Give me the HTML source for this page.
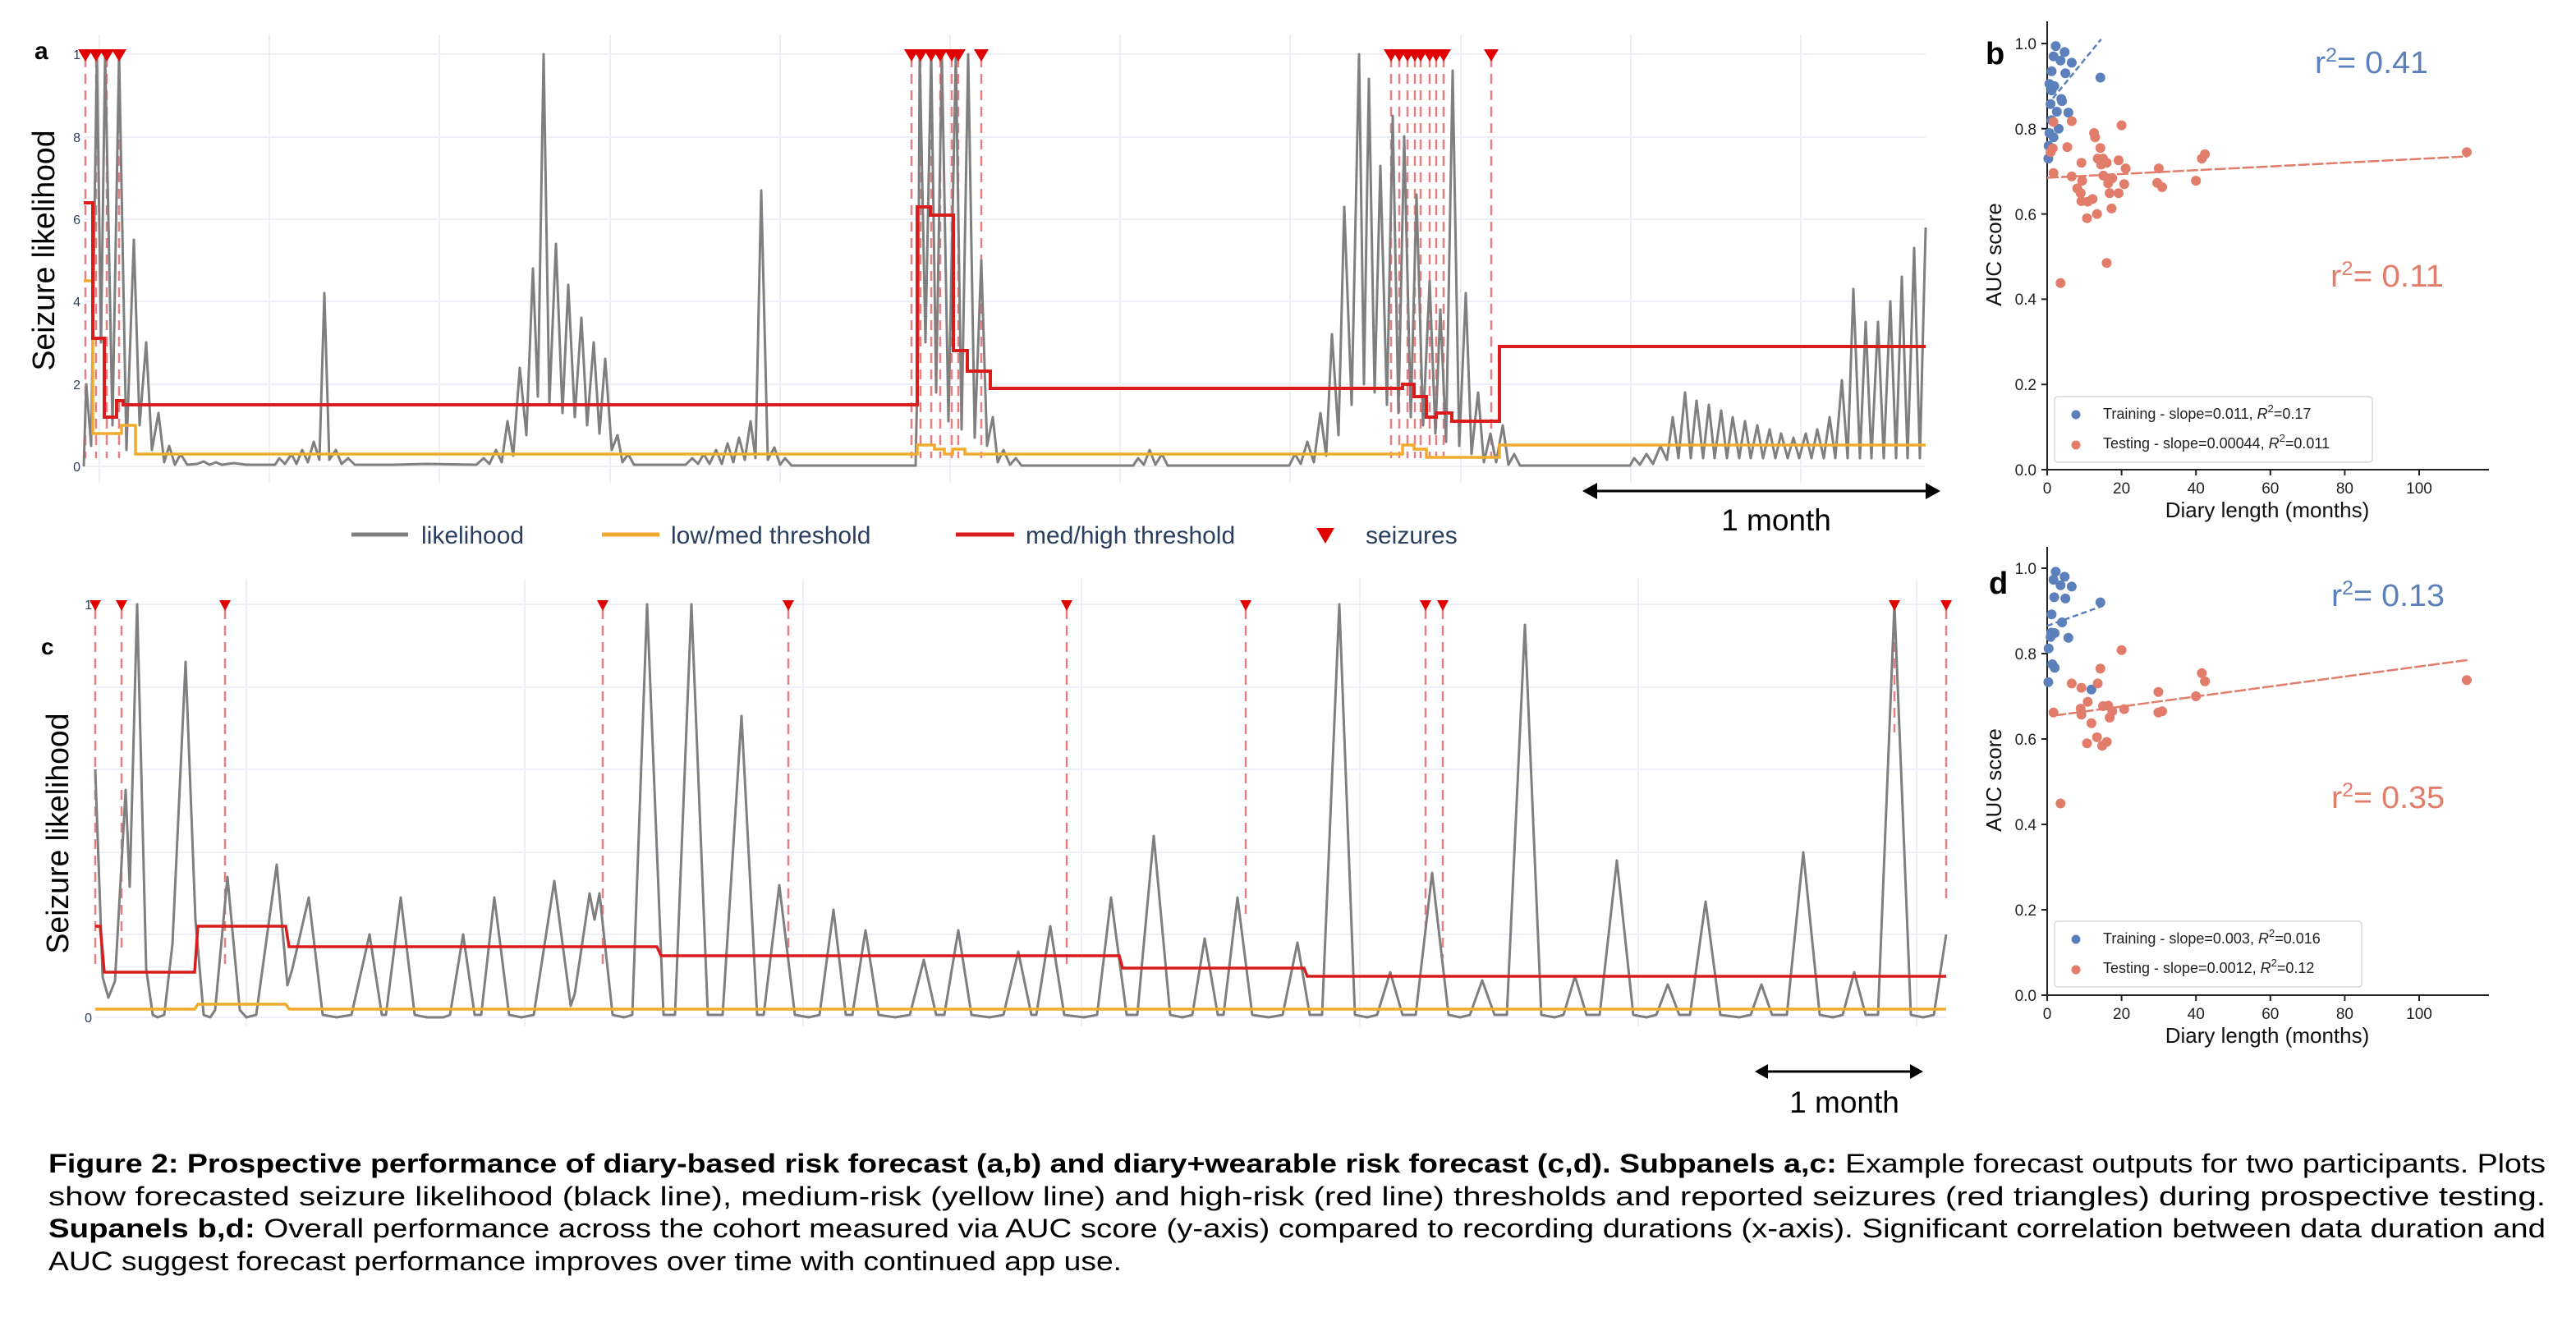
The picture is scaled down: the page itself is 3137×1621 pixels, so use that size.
<!DOCTYPE html>
<html><head><meta charset="utf-8">
<style>
html,body{margin:0;padding:0;background:#fff;}
svg{display:block;font-family:"Liberation Sans",sans-serif;}
</style></head>
<body>
<svg xmlns="http://www.w3.org/2000/svg" width="3137" height="1621" viewBox="0 0 3137 1621">
<rect width="3137" height="1621" fill="#fff"/>

<!-- ===== Panel A ===== -->
<g stroke="#eceff5" stroke-width="2">
<path d="M121,42V588M328,42V588M535,42V588M743,42V588M950,42V588M1157,42V588M1364,42V588M1571,42V588M1779,42V588M1986,42V588M2193,42V588"/>
<path d="M102,66H2345M102,167H2345M102,267H2345M102,367H2345M102,468H2345M102,568H2345"/>
</g>
<g font-size="16" fill="#2a3f5f" text-anchor="end">
<text x="98" y="72">1</text><text x="98" y="173">8</text><text x="98" y="273">6</text><text x="98" y="373">4</text><text x="98" y="474">2</text><text x="98" y="574">0</text>
</g>
<path d="M104,70V558M117,70V558M130,70V558M145,70V558M1110,70V558M1121,70V558M1134,70V558M1145,70V558M1159,70V558M1167,70V558M1195,70V558M1694,70V558M1704,70V558M1714,70V558M1723,70V558M1730,70V558M1741,70V558M1749,70V558M1758,70V558M1816,70V558" stroke="#e06060" stroke-width="2.5" stroke-dasharray="12,8" opacity="0.8" fill="none"/>
<path fill="none" stroke="#7f7f7f" stroke-width="3" stroke-linejoin="round" d="M102,568 L105,468 L111,543 L118,66 L123,417 L128,66 L137,518 L145,66 L154,548 L163,292 L170,518 L178,417 L185,548 L193,503 L200,563 L206,543 L213,566 L220,553 L228,566 L240,565 L248,562 L255,566 L263,563 L270,566 L285,564 L300,566 L335,566 L340,558 L347,565 L355,553 L361,565 L368,548 L375,563 L382,538 L389,560 L395,357 L401,560 L409,548 L416,565 L424,558 L432,566 L480,566 L520,565 L580,566 L589,558 L596,565 L604,548 L611,563 L618,513 L625,555 L633,448 L641,530 L649,327 L655,483 L662,66 L669,493 L677,297 L685,503 L692,347 L700,508 L708,387 L715,518 L723,417 L730,528 L737,437 L745,548 L752,530 L758,563 L765,553 L772,566 L835,566 L843,558 L850,565 L857,553 L864,565 L872,548 L879,565 L886,540 L893,563 L900,533 L907,560 L914,513 L920,558 L927,232 L935,560 L943,545 L950,566 L956,558 L964,567 L1115,567 L1118,417 L1120,66 L1127,417 L1134,66 L1140,478 L1147,66 L1155,513 L1164,66 L1171,523 L1179,66 L1187,533 L1195,317 L1202,543 L1209,508 L1215,563 L1222,548 L1230,566 L1237,558 L1244,567 L1380,567 L1386,558 L1393,566 L1400,548 L1407,566 L1415,553 L1422,567 L1570,567 L1577,553 L1584,565 L1592,538 L1600,563 L1608,503 L1615,555 L1622,407 L1630,530 L1637,252 L1646,493 L1655,66 L1661,468 L1667,96 L1674,478 L1681,202 L1689,493 L1696,141 L1703,503 L1710,166 L1718,508 L1725,237 L1733,518 L1741,342 L1748,528 L1754,377 L1761,538 L1769,86 L1777,543 L1785,357 L1792,553 L1800,478 L1807,563 L1815,528 L1822,563 L1830,518 L1837,566 L1844,553 L1851,567 L1985,567 L1990,558 L1997,566 L2005,553 L2013,565 L2022,543 L2030,560 L2037,508 L2044,558 L2052,478 L2059,558 L2066,488 L2074,558 L2081,493 L2088,558 L2096,500 L2103,558 L2110,508 L2118,558 L2125,513 L2132,558 L2140,518 L2147,558 L2155,523 L2162,558 L2169,528 L2177,558 L2184,533 L2191,558 L2199,528 L2206,558 L2213,523 L2221,558 L2228,508 L2235,558 L2243,463 L2250,558 L2257,352 L2265,558 L2272,392 L2279,558 L2287,392 L2294,558 L2302,367 L2309,558 L2316,337 L2323,558 L2331,302 L2338,558 L2345,277"/>
<path fill="none" stroke="#f0ab2e" stroke-width="3.5" d="M102,342 H113 V528 H148 V518 H165 V553 H1117 V542 H1138 V547 H1150 V553 H1160 V547 H1175 V553 H1708 V542 H1722 V547 H1737 V557 H1826 V542 H2345"/>
<path fill="none" stroke="#d91c1c" stroke-width="4" d="M102,247 H113 V412 H127 V508 H142 V488 H150 V493 H1117 V252 H1133 V262 H1161 V427 H1178 V452 H1206 V473 H1708 V468 H1722 V483 H1737 V508 H1749 V503 H1768 V513 H1826 V422 H2345"/>
<path fill="#e00000" d="M95,60h18l-9,15zM108,60h18l-9,15zM121,60h18l-9,15zM136,60h18l-9,15zM1101,60h18l-9,15zM1112,60h18l-9,15zM1125,60h18l-9,15zM1136,60h18l-9,15zM1150,60h18l-9,15zM1158,60h18l-9,15zM1186,60h18l-9,15zM1685,60h18l-9,15zM1695,60h18l-9,15zM1705,60h18l-9,15zM1714,60h18l-9,15zM1721,60h18l-9,15zM1732,60h18l-9,15zM1740,60h18l-9,15zM1749,60h18l-9,15zM1807,60h18l-9,15z"/>

<!-- ===== Panel C ===== -->
<g stroke="#eceff5" stroke-width="2">
<path d="M300,705V1250M639,705V1250M978,705V1250M1317,705V1250M1656,705V1250M1995,705V1250M2334,705V1250"/>
<path d="M116,736H2370M116,837H2370M116,937H2370M116,1038H2370M116,1138H2370M116,1239H2370"/>
</g>
<g font-size="16" fill="#2a3f5f" text-anchor="end"><text x="112" y="742">1</text><text x="112" y="1245">0</text></g>
<path d="M116,742V1180M148,742V1155M274,742V1178M734,742V1178M960,742V1170M1299,742V1182M1517,742V1113M1736,742V1134M1757,742V1167M2307,742V892M2370,742V1100" stroke="#e06060" stroke-width="2.5" stroke-dasharray="12,8" opacity="0.8" fill="none"/>
<path fill="none" stroke="#7f7f7f" stroke-width="3" stroke-linejoin="round" d="M116,937 L125,1190 L132,1215 L140,1195 L153,962 L158,1080 L167,736 L178,1180 L186,1236 L192,1239 L200,1236 L210,1150 L226,806 L238,1120 L248,1236 L256,1239 L262,1230 L277,1068 L292,1230 L300,1239 L312,1236 L337,1053 L350,1200 L356,1180 L376,1093 L393,1236 L410,1239 L428,1236 L450,1138 L465,1236 L470,1236 L488,1093 L505,1236 L520,1239 L540,1239 L548,1236 L564,1138 L578,1236 L586,1236 L602,1093 L620,1236 L635,1239 L650,1236 L675,1073 L695,1225 L700,1210 L718,1088 L724,1120 L730,1088 L746,1236 L760,1239 L770,1236 L788,736 L808,1236 L822,1236 L842,736 L862,1236 L880,1236 L903,872 L922,1236 L930,1236 L949,1078 L968,1236 L985,1239 L998,1236 L1015,1108 L1030,1236 L1038,1236 L1054,1133 L1070,1236 L1090,1239 L1108,1236 L1125,1169 L1140,1236 L1150,1236 L1167,1133 L1183,1236 L1205,1239 L1222,1236 L1240,1159 L1256,1236 L1262,1236 L1279,1128 L1296,1236 L1320,1239 L1336,1236 L1353,1093 L1372,1236 L1385,1236 L1405,1018 L1425,1236 L1440,1239 L1452,1236 L1467,1143 L1483,1236 L1490,1236 L1507,1093 L1525,1236 L1545,1239 L1562,1236 L1580,1148 L1595,1236 L1610,1236 L1631,736 L1650,1236 L1665,1239 L1677,1236 L1693,1184 L1708,1236 L1724,1236 L1744,1063 L1764,1236 L1778,1239 L1790,1236 L1805,1194 L1820,1236 L1835,1236 L1857,761 L1877,1236 L1893,1239 L1904,1236 L1918,1189 L1932,1236 L1948,1236 L1969,1048 L1989,1236 L2005,1239 L2017,1236 L2031,1199 L2045,1236 L2058,1236 L2077,1098 L2095,1236 L2118,1239 L2132,1236 L2145,1199 L2158,1236 L2176,1236 L2196,1038 L2216,1236 L2232,1239 L2244,1236 L2258,1184 L2272,1236 L2287,1236 L2307,736 L2327,1236 L2342,1239 L2355,1236 L2370,1138"/>
<path fill="none" stroke="#f0ab2e" stroke-width="3.5" d="M116,1229 H237 L241,1223 H348 L352,1229 H2370"/>
<path fill="none" stroke="#d91c1c" stroke-width="3.5" d="M116,1128 H122 L127,1184 H237 L241,1128 H348 L352,1153 H800 L805,1164 H1363 L1367,1179 H1588 L1592,1189 H2370"/>
<path fill="#e00000" d="M109,731h14l-7,13zM141,731h14l-7,13zM267,731h14l-7,13zM727,731h14l-7,13zM953,731h14l-7,13zM1292,731h14l-7,13zM1510,731h14l-7,13zM1729,731h14l-7,13zM1750,731h14l-7,13zM2300,731h14l-7,13zM2363,731h14l-7,13z"/>

<!-- panel labels -->
<text x="42" y="72" font-size="30" font-weight="bold">a</text>
<text x="50" y="797" font-size="28" font-weight="bold">c</text>
<text x="2418" y="78" font-size="38" font-weight="bold">b</text>
<text x="2422" y="723" font-size="38" font-weight="bold">d</text>
<text transform="translate(66,305) rotate(-90)" text-anchor="middle" font-size="38" textLength="293" lengthAdjust="spacingAndGlyphs">Seizure likelihood</text>
<text transform="translate(83,1015) rotate(-90)" text-anchor="middle" font-size="38" textLength="293" lengthAdjust="spacingAndGlyphs">Seizure likelihood</text>

<!-- legend row -->
<g font-size="30" fill="#2a3f5f">
<line x1="428" y1="651" x2="497" y2="651" stroke="#808080" stroke-width="5"/>
<text x="513" y="662">likelihood</text>
<line x1="733" y1="651" x2="803" y2="651" stroke="#f0ab2e" stroke-width="5"/>
<text x="817" y="662">low/med threshold</text>
<line x1="1164" y1="651" x2="1235" y2="651" stroke="#d91c1c" stroke-width="5"/>
<text x="1249" y="662">med/high threshold</text>
<path d="M1603,643 L1625,643 L1614,662 Z" fill="#e00000"/>
<text x="1663" y="662">seizures</text>
</g>

<!-- 1 month arrows -->
<g stroke="#000" stroke-width="3">
<line x1="1940" y1="598" x2="2350" y2="598"/>
<line x1="2150" y1="1305" x2="2330" y2="1305"/>
</g>
<path d="M1927,598 L1945,588 L1945,608 Z M2363,598 L2345,588 L2345,608 Z" fill="#000"/>
<path d="M2137,1305 L2153,1296 L2153,1314 Z M2342,1305 L2326,1296 L2326,1314 Z" fill="#000"/>
<text x="2163" y="646" font-size="37" text-anchor="middle">1 month</text>
<text x="2246" y="1355" font-size="37" text-anchor="middle">1 month</text>

<!-- ===== Panel B ===== -->
<g stroke="#222" stroke-width="2" fill="none">
<path d="M2493,26V572H3031"/>
<path d="M2486,572H2493M2486,468.2H2493M2486,364.4H2493M2486,260.6H2493M2486,156.8H2493M2486,53H2493"/>
<path d="M2493,572V579M2583.6,572V579M2674.2,572V579M2764.8,572V579M2855.4,572V579M2946,572V579"/>
</g>
<g font-size="19" fill="#222" text-anchor="end">
<text x="2480" y="579">0.0</text><text x="2480" y="475">0.2</text><text x="2480" y="371">0.4</text><text x="2480" y="268">0.6</text><text x="2480" y="164">0.8</text><text x="2480" y="60">1.0</text>
</g>
<g font-size="19" fill="#222" text-anchor="middle">
<text x="2493" y="601">0</text><text x="2583.6" y="601">20</text><text x="2674.2" y="601">40</text><text x="2764.8" y="601">60</text><text x="2855.4" y="601">80</text><text x="2946" y="601">100</text>
</g>
<text transform="translate(2437,310) rotate(-90)" font-size="26" text-anchor="middle" fill="#111">AUC score</text>
<text x="2761" y="630" font-size="26" text-anchor="middle" fill="#111">Diary length (months)</text>
<g fill="#5b80bb">
<circle cx="2503.4" cy="56.1" r="6"/><circle cx="2500.7" cy="68.6" r="6"/><circle cx="2514.3" cy="63.4" r="6"/><circle cx="2509.3" cy="73.8" r="6"/><circle cx="2522.9" cy="76.4" r="6"/><circle cx="2498.4" cy="86.7" r="6"/><circle cx="2515.2" cy="89.3" r="6"/><circle cx="2557.8" cy="94.5" r="6"/><circle cx="2495.7" cy="102.3" r="6"/><circle cx="2501.6" cy="104.9" r="6"/><circle cx="2498.4" cy="110.1" r="6"/><circle cx="2510.2" cy="120.5" r="6"/><circle cx="2511.1" cy="123.1" r="6"/><circle cx="2497.1" cy="126.7" r="6"/><circle cx="2504.8" cy="136" r="6"/><circle cx="2518.8" cy="137.1" r="6"/><circle cx="2498.4" cy="146.4" r="6"/><circle cx="2507" cy="156.8" r="6"/><circle cx="2495.7" cy="162" r="6"/><circle cx="2500.7" cy="167.2" r="6"/><circle cx="2494.8" cy="177.6" r="6"/><circle cx="2494.4" cy="193.1" r="6"/>
</g>
<g fill="#e27c6b">
<circle cx="2500.7" cy="148.5" r="6"/><circle cx="2522.9" cy="147.5" r="6"/><circle cx="2583.6" cy="152.6" r="6"/><circle cx="2550.1" cy="162" r="6"/><circle cx="2551.4" cy="167.2" r="6"/><circle cx="2517.5" cy="179.1" r="6"/><circle cx="2557.8" cy="180.2" r="6"/><circle cx="2499.8" cy="180.7" r="6"/><circle cx="2497.1" cy="185.3" r="6"/><circle cx="2554.6" cy="193.1" r="6"/><circle cx="2561" cy="193.1" r="6"/><circle cx="2565.5" cy="198.3" r="6"/><circle cx="2580" cy="195.2" r="6"/><circle cx="2534.7" cy="198.3" r="6"/><circle cx="2558.7" cy="200.4" r="6"/><circle cx="2685.1" cy="187.9" r="6"/><circle cx="2681.4" cy="193.1" r="6"/><circle cx="3004" cy="185.3" r="6"/><circle cx="2500.7" cy="210.8" r="6"/><circle cx="2588.6" cy="205.1" r="6"/><circle cx="2628.9" cy="205.1" r="6"/><circle cx="2522.9" cy="214.9" r="6"/><circle cx="2561.4" cy="213.9" r="6"/><circle cx="2572.3" cy="217" r="6"/><circle cx="2535.6" cy="220.1" r="6"/><circle cx="2567.3" cy="223.2" r="6"/><circle cx="2586.8" cy="224.3" r="6"/><circle cx="2627.1" cy="222.7" r="6"/><circle cx="2633" cy="227.9" r="6"/><circle cx="2674.2" cy="220.1" r="6"/><circle cx="2529.7" cy="229.5" r="6"/><circle cx="2533.8" cy="235.2" r="6"/><circle cx="2569.1" cy="235.2" r="6"/><circle cx="2580" cy="235.2" r="6"/><circle cx="2548.3" cy="242.4" r="6"/><circle cx="2542.4" cy="245.6" r="6"/><circle cx="2534.7" cy="245" r="6"/><circle cx="2571.4" cy="253.9" r="6"/><circle cx="2553.7" cy="260.6" r="6"/><circle cx="2541.5" cy="265.8" r="6"/><circle cx="2565.5" cy="320.3" r="6"/><circle cx="2509.3" cy="344.7" r="6"/>
</g>
<line x1="2493" y1="128.3" x2="2558.7" y2="47.8" stroke="#5b80bb" stroke-width="2.5" stroke-dasharray="7,4"/>
<line x1="2493" y1="216.5" x2="3004.9" y2="190.5" stroke="#e27c6b" stroke-width="2.5" stroke-dasharray="14,3"/>
<text x="2819" y="89" font-size="38" fill="#5b80bb" textLength="138" lengthAdjust="spacingAndGlyphs">r<tspan dy="-14" font-size="24">2</tspan><tspan dy="14">= 0.41</tspan></text>
<text x="2838" y="349" font-size="38" fill="#e27c6b" textLength="138" lengthAdjust="spacingAndGlyphs">r<tspan dy="-14" font-size="24">2</tspan><tspan dy="14">= 0.11</tspan></text>
<rect x="2502" y="483" width="387" height="80" rx="4" fill="#fff" stroke="#d8d8d8" stroke-width="1.5"/>
<circle cx="2528" cy="505" r="5.5" fill="#5b80bb"/><circle cx="2528" cy="542" r="5.5" fill="#e27c6b"/>
<text x="2561" y="510" font-size="18" fill="#222">Training - slope=0.011, <tspan font-style="italic">R</tspan><tspan dy="-8" font-size="13">2</tspan><tspan dy="8">=0.17</tspan></text>
<text x="2561" y="546" font-size="18" fill="#222">Testing - slope=0.00044, <tspan font-style="italic">R</tspan><tspan dy="-8" font-size="13">2</tspan><tspan dy="8">=0.011</tspan></text>

<!-- ===== Panel D ===== -->
<g stroke="#222" stroke-width="2" fill="none">
<path d="M2493,666V1212H3031"/>
<path d="M2486,1212H2493M2486,1108H2493M2486,1004H2493M2486,900H2493M2486,796H2493M2486,692H2493"/>
<path d="M2493,1212V1219M2583.6,1212V1219M2674.2,1212V1219M2764.8,1212V1219M2855.4,1212V1219M2946,1212V1219"/>
</g>
<g font-size="19" fill="#222" text-anchor="end">
<text x="2480" y="1219">0.0</text><text x="2480" y="1115">0.2</text><text x="2480" y="1011">0.4</text><text x="2480" y="907">0.6</text><text x="2480" y="803">0.8</text><text x="2480" y="699">1.0</text>
</g>
<g font-size="19" fill="#222" text-anchor="middle">
<text x="2493" y="1241">0</text><text x="2583.6" y="1241">20</text><text x="2674.2" y="1241">40</text><text x="2764.8" y="1241">60</text><text x="2855.4" y="1241">80</text><text x="2946" y="1241">100</text>
</g>
<text transform="translate(2437,950) rotate(-90)" font-size="26" text-anchor="middle" fill="#111">AUC score</text>
<text x="2761" y="1270" font-size="26" text-anchor="middle" fill="#111">Diary length (months)</text>
<g fill="#5b80bb">
<circle cx="2503.4" cy="696.2" r="6"/><circle cx="2500.7" cy="706" r="6"/><circle cx="2514.3" cy="702.4" r="6"/><circle cx="2509.3" cy="712.8" r="6"/><circle cx="2522.9" cy="714.4" r="6"/><circle cx="2501.6" cy="727.4" r="6"/><circle cx="2515.2" cy="728.9" r="6"/><circle cx="2557.8" cy="733.6" r="6"/><circle cx="2498.4" cy="748.2" r="6"/><circle cx="2511.1" cy="758" r="6"/><circle cx="2498" cy="770.5" r="6"/><circle cx="2502.1" cy="771" r="6"/><circle cx="2497.1" cy="775.7" r="6"/><circle cx="2518.8" cy="776.8" r="6"/><circle cx="2494.8" cy="789.8" r="6"/><circle cx="2499.3" cy="809" r="6"/><circle cx="2502.1" cy="813.2" r="6"/><circle cx="2494.4" cy="830.8" r="6"/><circle cx="2546.9" cy="839.7" r="6"/>
</g>
<g fill="#e27c6b">
<circle cx="2583.6" cy="791.8" r="6"/><circle cx="2557.8" cy="814.2" r="6"/><circle cx="2681.4" cy="819.9" r="6"/><circle cx="2685.1" cy="829.8" r="6"/><circle cx="3004" cy="828.2" r="6"/><circle cx="2522.9" cy="832.4" r="6"/><circle cx="2554.6" cy="832.4" r="6"/><circle cx="2534.7" cy="837.6" r="6"/><circle cx="2628.4" cy="842.8" r="6"/><circle cx="2674.2" cy="848" r="6"/><circle cx="2542.4" cy="854.8" r="6"/><circle cx="2561" cy="860" r="6"/><circle cx="2567.3" cy="859.4" r="6"/><circle cx="2533.8" cy="863.1" r="6"/><circle cx="2586.8" cy="863.6" r="6"/><circle cx="2500.7" cy="867.8" r="6"/><circle cx="2534.7" cy="870.4" r="6"/><circle cx="2628.4" cy="867.8" r="6"/><circle cx="2633" cy="866.2" r="6"/><circle cx="2572.3" cy="866.2" r="6"/><circle cx="2569.1" cy="874" r="6"/><circle cx="2546.9" cy="880.8" r="6"/><circle cx="2553.7" cy="897.9" r="6"/><circle cx="2541.5" cy="905.2" r="6"/><circle cx="2565.5" cy="903.6" r="6"/><circle cx="2560" cy="908.3" r="6"/><circle cx="2509.3" cy="978.5" r="6"/>
</g>
<line x1="2493" y1="762.2" x2="2561" y2="737.8" stroke="#5b80bb" stroke-width="2.5" stroke-dasharray="7,4"/>
<line x1="2502.1" y1="871.4" x2="3004.9" y2="803.8" stroke="#e27c6b" stroke-width="2.5" stroke-dasharray="14,3"/>
<text x="2839" y="738" font-size="38" fill="#5b80bb" textLength="138" lengthAdjust="spacingAndGlyphs">r<tspan dy="-14" font-size="24">2</tspan><tspan dy="14">= 0.13</tspan></text>
<text x="2839" y="984" font-size="38" fill="#e27c6b" textLength="138" lengthAdjust="spacingAndGlyphs">r<tspan dy="-14" font-size="24">2</tspan><tspan dy="14">= 0.35</tspan></text>
<rect x="2502" y="1122" width="374" height="80" rx="4" fill="#fff" stroke="#d8d8d8" stroke-width="1.5"/>
<circle cx="2528" cy="1144" r="5.5" fill="#5b80bb"/><circle cx="2528" cy="1181" r="5.5" fill="#e27c6b"/>
<text x="2561" y="1149" font-size="18" fill="#222">Training - slope=0.003, <tspan font-style="italic">R</tspan><tspan dy="-8" font-size="13">2</tspan><tspan dy="8">=0.016</tspan></text>
<text x="2561" y="1185" font-size="18" fill="#222">Testing - slope=0.0012, <tspan font-style="italic">R</tspan><tspan dy="-8" font-size="13">2</tspan><tspan dy="8">=0.12</tspan></text>

<!-- caption -->
<g font-size="32" fill="#000">
<text x="59" y="1428" textLength="3041" lengthAdjust="spacingAndGlyphs"><tspan font-weight="bold">Figure 2: Prospective performance of diary-based risk forecast (a,b) and diary+wearable risk forecast (c,d). Subpanels a,c:</tspan> Example forecast outputs for two participants. Plots</text>
<text x="59" y="1468" textLength="3041" lengthAdjust="spacingAndGlyphs">show forecasted seizure likelihood (black line), medium-risk (yellow line) and high-risk (red line) thresholds and reported seizures (red triangles) during prospective testing.</text>
<text x="59" y="1507" textLength="3041" lengthAdjust="spacingAndGlyphs"><tspan font-weight="bold">Supanels b,d:</tspan> Overall performance across the cohort measured via AUC score (y-axis) compared to recording durations (x-axis). Significant correlation between data duration and</text>
<text x="59" y="1547" textLength="1307" lengthAdjust="spacingAndGlyphs">AUC suggest forecast performance improves over time with continued app use.</text>
</g>
</svg>
</body></html>
